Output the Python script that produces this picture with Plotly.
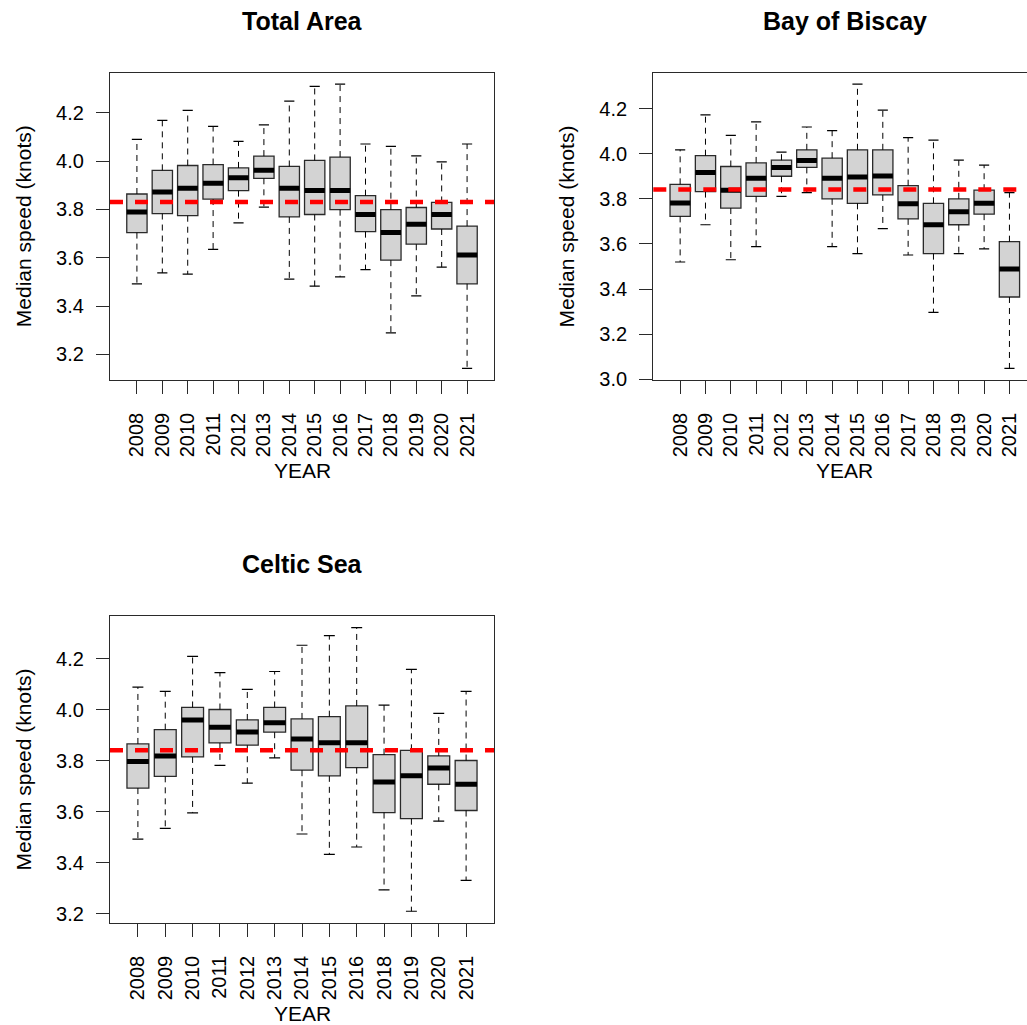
import plotly.graph_objects as go

# ---------------- data ----------------
years_all = ["2008", "2009", "2010", "2011", "2012", "2013", "2014",
             "2015", "2016", "2017", "2018", "2019", "2020", "2021"]
years_celtic = ["2008", "2009", "2010", "2011", "2012", "2013", "2014",
                "2015", "2016", "2018", "2019", "2020", "2021"]

# Total Area
ta_low = [3.492, 3.537, 3.532, 3.635, 3.744, 3.810, 3.511, 3.482, 3.521, 3.551, 3.289, 3.442, 3.561, 3.142]
ta_q1 = [3.704, 3.783, 3.774, 3.843, 3.878, 3.929, 3.769, 3.779, 3.799, 3.708, 3.590, 3.656, 3.719, 3.492]
ta_med = [3.789, 3.872, 3.888, 3.908, 3.931, 3.962, 3.888, 3.878, 3.878, 3.779, 3.704, 3.739, 3.779, 3.611]
ta_q3 = [3.864, 3.962, 3.982, 3.986, 3.972, 4.021, 3.978, 4.003, 4.017, 3.857, 3.799, 3.808, 3.829, 3.731]
ta_high = [4.090, 4.169, 4.210, 4.144, 4.082, 4.150, 4.249, 4.310, 4.319, 4.071, 4.061, 4.022, 3.997, 4.071]
ta_ref = 3.831

# Bay of Biscay
bb_low = [3.520, 3.685, 3.530, 3.588, 3.811, 3.827, 3.588, 3.557, 3.668, 3.551, 3.297, 3.557, 3.578, 3.049]
bb_q1 = [3.722, 3.832, 3.759, 3.811, 3.900, 3.939, 3.800, 3.780, 3.817, 3.711, 3.557, 3.685, 3.732, 3.365]
bb_med = [3.781, 3.916, 3.838, 3.891, 3.939, 3.970, 3.891, 3.897, 3.901, 3.778, 3.685, 3.743, 3.780, 3.489]
bb_q3 = [3.864, 3.991, 3.943, 3.959, 3.971, 4.017, 3.980, 4.017, 4.017, 3.858, 3.780, 3.800, 3.838, 3.610]
bb_high = [4.017, 4.172, 4.081, 4.141, 4.007, 4.118, 4.102, 4.308, 4.193, 4.071, 4.060, 3.971, 3.949, 3.827]
bb_ref = 3.841

# Celtic Sea (no 2017)
cs_low = [3.492, 3.534, 3.595, 3.781, 3.711, 3.810, 3.512, 3.432, 3.461, 3.293, 3.209, 3.562, 3.330]
cs_q1 = [3.692, 3.738, 3.814, 3.869, 3.860, 3.911, 3.762, 3.740, 3.772, 3.596, 3.572, 3.707, 3.604]
cs_med = [3.796, 3.818, 3.959, 3.930, 3.912, 3.948, 3.884, 3.870, 3.870, 3.716, 3.740, 3.771, 3.707]
cs_q3 = [3.865, 3.921, 4.008, 4.000, 3.959, 4.008, 3.963, 3.972, 4.014, 3.823, 3.840, 3.818, 3.800]
cs_high = [4.088, 4.071, 4.208, 4.145, 4.079, 4.149, 4.252, 4.290, 4.321, 4.017, 4.157, 3.985, 4.071]
cs_ref = 3.840

yticks_a = [3.2, 3.4, 3.6, 3.8, 4.0, 4.2]
yticks_b = [3.0, 3.2, 3.4, 3.6, 3.8, 4.0, 4.2]

titles = ["Total Area", "Bay of Biscay", "Celtic Sea"]

# ---------------- figure ----------------
W, H = 1027, 1025          # target picture size (positions below are fractions of it)
FIG_H = 1037               # figure height requested from plotly
FONT = "Liberation Sans, Arial, sans-serif"
BOXW = 0.8
CAPW = 0.4
EDGE = "#2a2a2a"

fig = go.Figure()

panels = [
    dict(years=years_all, low=ta_low, q1=ta_q1, med=ta_med, q3=ta_q3, high=ta_high,
         ref=ta_ref, ticks=yticks_a, xa="x", ya="y", xn="xaxis", yn="yaxis"),
    dict(years=years_all, low=bb_low, q1=bb_q1, med=bb_med, q3=bb_q3, high=bb_high,
         ref=bb_ref, ticks=yticks_b, xa="x2", ya="y2", xn="xaxis2", yn="yaxis2"),
    dict(years=years_celtic, low=cs_low, q1=cs_q1, med=cs_med, q3=cs_q3, high=cs_high,
         ref=cs_ref, ticks=yticks_a, xa="x3", ya="y3", xn="xaxis3", yn="yaxis3"),
]

# plot-area pixel boxes (left, right, top, bottom)
boxes_px = [(110, 494, 72.7, 379.3), (653.3, 1036.3, 72.7, 379.3), (110, 494, 615.7, 921.7)]

layout = dict(width=W, height=FIG_H, margin=dict(l=0, r=0, t=0, b=0),
              paper_bgcolor="white", plot_bgcolor="white", showlegend=False,
              font=dict(family=FONT, color="black"), barmode="overlay")
shapes = []
annotations = []

for k, p in enumerate(panels):
    n = len(p["years"])
    pos = list(range(1, n + 1))
    xa, ya = p["xa"], p["ya"]

    # boxes (Q1..Q3)
    fig.add_trace(go.Bar(
        x=pos, base=p["q1"], y=[b - a for a, b in zip(p["q1"], p["q3"])],
        width=BOXW, marker=dict(color="#d3d3d3", line=dict(color=EDGE, width=1.3)),
        xaxis=xa, yaxis=ya, hoverinfo="skip"))

    # dashed whiskers
    wx, wy = [], []
    for i, lo, a, b, hi in zip(pos, p["low"], p["q1"], p["q3"], p["high"]):
        wx += [i, i, None, i, i, None]
        wy += [b, hi, None, a, lo, None]
    fig.add_trace(go.Scatter(x=wx, y=wy, mode="lines",
                             line=dict(color="black", width=1, dash="6px,5px"),
                             xaxis=xa, yaxis=ya, hoverinfo="skip"))

    # staples
    sx, sy = [], []
    for i, lo, hi in zip(pos, p["low"], p["high"]):
        sx += [i - CAPW / 2, i + CAPW / 2, None, i - CAPW / 2, i + CAPW / 2, None]
        sy += [hi, hi, None, lo, lo, None]
    fig.add_trace(go.Scatter(x=sx, y=sy, mode="lines",
                             line=dict(color="black", width=1.2),
                             xaxis=xa, yaxis=ya, hoverinfo="skip"))

    # medians
    mx, my = [], []
    for i, m in zip(pos, p["med"]):
        mx += [i - BOXW / 2, i + BOXW / 2, None]
        my += [m, m, None]
    fig.add_trace(go.Scatter(x=mx, y=my, mode="lines",
                             line=dict(color="black", width=5),
                             xaxis=xa, yaxis=ya, hoverinfo="skip"))

    # axis ranges like R (4% padding)
    lo_all, hi_all = min(p["low"]), max(p["high"])
    pad = 0.04 * (hi_all - lo_all)
    l, r, t, b = boxes_px[k]
    xpad = 0.04 * n
    x0 = 0.5 - xpad
    x1 = n + 0.5 + xpad
    x_dom1 = min(r / W, 1.0)
    clipped = r > W
    if clipped:
        x1 = x0 + (x1 - x0) * (W - l) / (r - l)
    layout[p["xn"]] = dict(
        domain=[l / W, x_dom1], range=[x0, x1], anchor=ya,
        tickvals=pos, ticktext=p["years"], tickangle=-90,
        showline=True, mirror=True, linecolor=EDGE, linewidth=1.3,
        ticks="outside", ticklen=13, tickwidth=1.2, tickcolor=EDGE,
        showgrid=False, zeroline=False, ticklabelstandoff=11,
        tickfont=dict(size=20, family=FONT, color="black"))
    layout[p["yn"]] = dict(
        domain=[1 - b / H, 1 - t / H], range=[lo_all - pad, hi_all + pad], anchor=xa,
        tickvals=p["ticks"], ticktext=["%.1f" % v for v in p["ticks"]],
        showline=True, mirror=not clipped, linecolor=EDGE, linewidth=1.3,
        ticks="outside", ticklen=13, tickwidth=1.2, tickcolor=EDGE,
        showgrid=False, zeroline=False, ticklabelstandoff=8,
        tickfont=dict(size=20, family=FONT, color="black"))

    # red dashed reference line
    shapes.append(dict(type="line", xref=xa + " domain", yref=ya, x0=0, x1=1,
                       y0=p["ref"], y1=p["ref"], layer="above",
                       line=dict(color="#ff0000", width=4.5, dash="13px,12px")))

    cx = (l + r) / 2
    annotations.append(dict(text="<b>%s</b>" % titles[k], xref="paper", yref="paper",
                            x=cx / W, y=1 - (t - 52) / H, xanchor="center", yanchor="middle",
                            showarrow=False, font=dict(size=25, family=FONT, color="black")))
    annotations.append(dict(text="YEAR", xref="paper", yref="paper",
                            x=cx / W, y=1 - (b + 91) / H, xanchor="center", yanchor="middle",
                            showarrow=False, font=dict(size=21, family=FONT, color="black")))
    annotations.append(dict(text="Median speed (knots)", xref="paper", yref="paper",
                            x=(l - 87) / W, y=1 - (t + b) / 2 / H, xanchor="center",
                            yanchor="middle", textangle=-90, showarrow=False,
                            font=dict(size=21, family=FONT, color="black")))

layout["shapes"] = shapes
layout["annotations"] = annotations
fig.update_layout(**layout)
fig.write_html("out.html", config={"displayModeBar": False},
               post_script="document.body.style.margin='0';document.body.style.overflow='hidden';")
